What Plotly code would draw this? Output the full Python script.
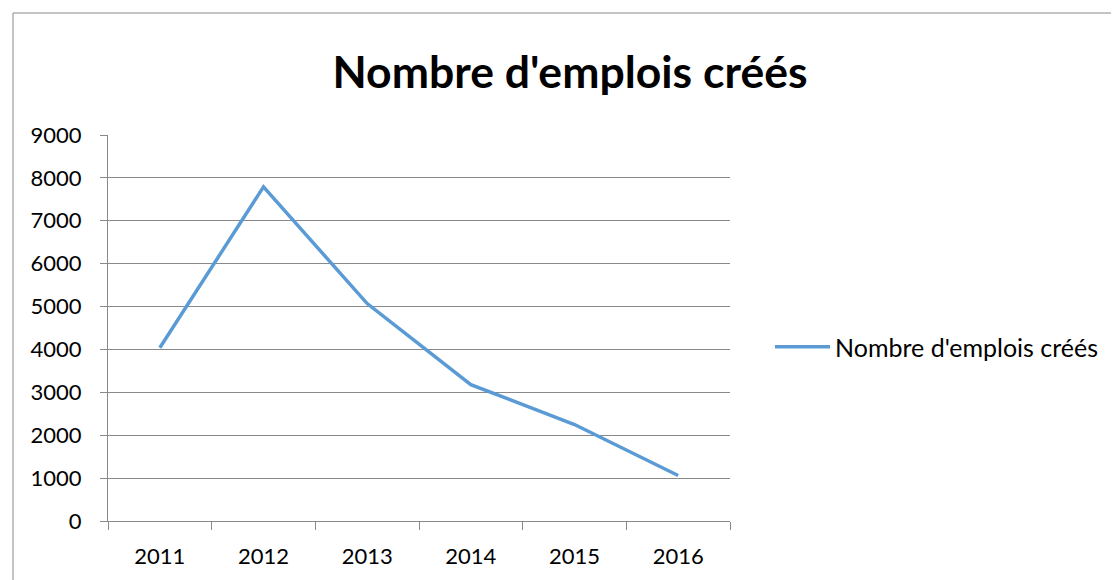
import plotly.graph_objects as go

annees = ['2011', '2012', '2013', '2014', '2015', '2016']
emplois = [4040, 7790, 5070, 3180, 2250, 1060]
y_ticks = [0, 1000, 2000, 3000, 4000, 5000, 6000, 7000, 8000, 9000]

gris = '#898989'
bleu = '#5B9BD5'

# zone de tracé (pixels dans la figure)
gauche, droite, haut, bas = 100, 722, 127, 513
larg, haut_tot = 1119, 580
w_plot = droite - gauche
h_plot = bas - haut

fig = go.Figure()
fig.add_trace(go.Scatter(
    x=annees,
    y=emplois,
    mode='lines',
    name="Nombre d'emplois créés",
    line=dict(color=bleu, width=3.5)
))

fig.update_layout(
    width=larg,
    height=haut_tot,
    paper_bgcolor='white',
    plot_bgcolor='white',
    margin=dict(l=gauche, r=larg - droite, t=haut, b=haut_tot - bas),
    font=dict(family='Lato, Open Sans, sans-serif', color='#000000', size=22),
    title=dict(
        text="<b>Nombre d'emplois créés</b>",
        font=dict(size=44.5, family='Lato, Open Sans, sans-serif', color='#000000'),
        x=562 / larg, xanchor='center', xref='container',
        y=1 - 64 / haut_tot, yanchor='middle', yref='container'
    ),
    showlegend=True,
    legend=dict(
        x=(762 - gauche) / w_plot, xanchor='left',
        y=(bas - 339) / h_plot, yanchor='middle',
        font=dict(size=25),
        itemwidth=55,
        bgcolor='rgba(0,0,0,0)'
    ),
    xaxis=dict(
        type='category',
        range=[-0.5, 5.5],
        tickson='boundaries',
        ticks='outside',
        ticklen=8,
        tickcolor=gris,
        showline=True,
        linecolor=gris,
        linewidth=1,
        showgrid=False,
        ticklabelstandoff=16,
        tickfont=dict(size=22),
        fixedrange=True
    ),
    yaxis=dict(
        range=[0, 9000],
        tickvals=y_ticks,
        ticks='outside',
        ticklen=7,
        tickcolor=gris,
        showline=True,
        linecolor=gris,
        linewidth=1,
        showgrid=True,
        gridcolor=gris,
        gridwidth=1,
        zeroline=False,
        ticklabelstandoff=14,
        tickfont=dict(size=22),
        fixedrange=True
    ),
    shapes=[dict(
        type='rect', xref='paper', yref='paper',
        x0=(5 - gauche) / w_plot, x1=2.0,
        y0=-0.5, y1=(bas - 5) / h_plot,
        line=dict(color=gris, width=1),
        fillcolor='rgba(0,0,0,0)',
        layer='below'
    )]
)

fig.write_html("out.html")
